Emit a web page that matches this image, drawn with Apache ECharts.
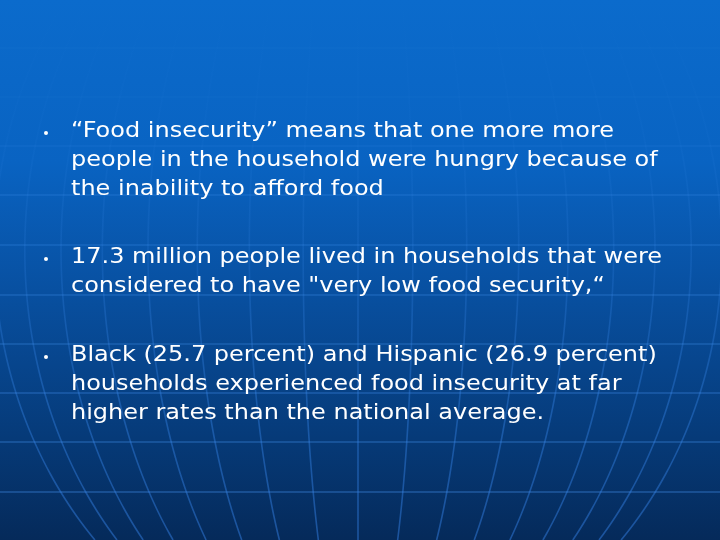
<!DOCTYPE html>
<html>
<head>
<meta charset="utf-8">
<script src="https://cdn.jsdelivr.net/npm/echarts@6/dist/echarts.min.js"></script>
<style>
html,body{margin:0;padding:0;background:#0a55ab;}
#chart{width:720px;height:540px;}
</style>
</head>
<body>
<div id="chart"></div>
<script>
// Slide content (text only; no numeric series in the reference)
var bullet1Lines = [
  '\u201cFood insecurity\u201d means that one more more',
  'people in the household were hungry because of',
  'the inability to afford food'
];
var bullet2Lines = [
  '17.3 million people lived in households that were',
  'considered to have "very low food security,\u201c'
];
var bullet3Lines = [
  'Black (25.7 percent) and Hispanic (26.9 percent)',
  'households experienced food insecurity at far',
  'higher rates than the national average.'
];
var bullets = [bullet1Lines, bullet2Lines, bullet3Lines];

var W = 720, H = 540;
var chart = echarts.init(document.getElementById('chart'), null, {renderer: 'canvas'});
var G = echarts.graphic;

var elements = [];

// background gradient
elements.push({
  type: 'rect', z: 0, silent: true,
  shape: {x: 0, y: 0, width: W, height: H},
  style: {
    fill: new G.LinearGradient(0, 0, 0, 1, [
      {offset: 0, color: '#0b6bcc'},
      {offset: 0.3, color: '#0963c2'},
      {offset: 0.55, color: '#084f9f'},
      {offset: 0.8, color: '#063b7a'},
      {offset: 1, color: '#052a5a'}
    ])
  }
});

function meridianGrad() {
  return new G.LinearGradient(0, 0, 0, H, [
    {offset: 0, color: 'rgba(70,150,245,0.0)'},
    {offset: 0.25, color: 'rgba(70,150,245,0.04)'},
    {offset: 0.5, color: 'rgba(60,140,240,0.18)'},
    {offset: 0.75, color: 'rgba(55,135,235,0.38)'},
    {offset: 1, color: 'rgba(50,125,225,0.5)'}
  ], true);
}
function latAlpha(y) {
  if (y < 120) return 0.07;
  if (y < 170) return 0.12;
  return 0.22 + 0.18 * (y - 170) / 330;
}

// globe latitude lines (horizontal)
var latY = [48, 97, 146, 195, 245, 295, 344, 393, 442, 492];
latY.forEach(function (y) {
  elements.push({
    type: 'line', z: 1, silent: true,
    shape: {x1: 0, y1: y, x2: W, y2: y},
    style: {stroke: 'rgba(70,150,245,' + latAlpha(y).toFixed(3) + ')', lineWidth: 1.6}
  });
});

// globe meridians
var cx = 358, cy = 250, R = 420;
for (var k = -8; k <= 8; k++) {
  var d = R * Math.sin(k * 7.5 * Math.PI / 180);
  var pts = [];
  for (var y = 0; y <= H; y += 6) {
    var t = (y - cy) / R;
    pts.push([cx + d * Math.sqrt(Math.max(0, 1 - t * t)), y]);
  }
  elements.push({
    type: 'polyline', z: 1, silent: true,
    shape: {points: pts, smooth: 0},
    style: {stroke: meridianGrad(), lineWidth: 1.6, fill: null}
  });
}

// text
var fontSize = 22;
var stretch = 1.09;
var lineStep = 29;
var firstBaselines = [138, 264, 362];
var textX = 71, bulletX = 46;
bullets.forEach(function (lines, bi) {
  var base = firstBaselines[bi];
  elements.push({
    type: 'circle', z: 3, silent: true,
    shape: {cx: bulletX, cy: base - 5, r: 2},
    style: {fill: '#ffffff'}
  });
  lines.forEach(function (txt, li) {
    elements.push({
      type: 'text', z: 3, silent: true,
      x: textX, y: base + li * lineStep - 7,
      scaleX: stretch, scaleY: 1,
      style: {
        text: txt,
        fill: '#ffffff',
        font: fontSize + 'px "DejaVu Sans", Verdana, sans-serif',
        align: 'left',
        verticalAlign: 'middle',
        textShadowColor: 'rgba(0,10,50,0.7)',
        textShadowOffsetX: 1,
        textShadowOffsetY: 1,
        textShadowBlur: 0
      }
    });
  });
});

chart.setOption({
  animation: false,
  graphic: {elements: elements}
});
</script>
</body>
</html>
